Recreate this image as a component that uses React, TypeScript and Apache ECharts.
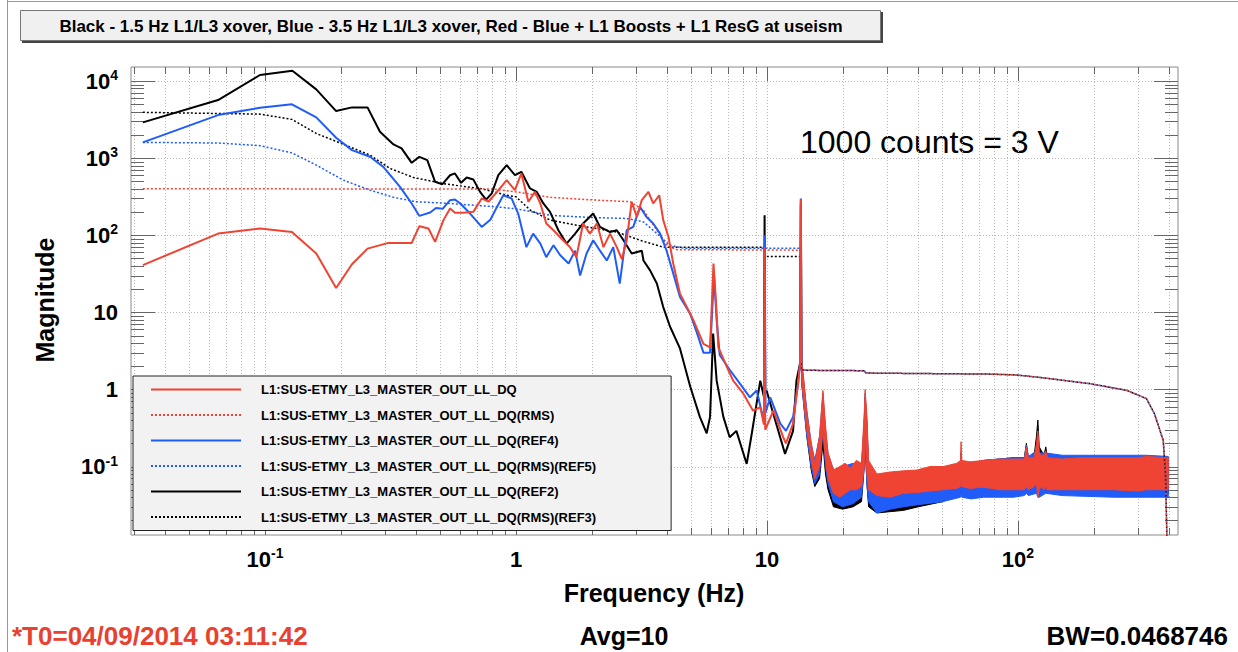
import React, { useEffect, useRef } from "react";
import * as echarts from "echarts";

const FONT = '"Liberation Sans", Arial, Helvetica, sans-serif';
const RED = "#ef4333";
const BLUE = "#1f5cf8";
const BLACK = "#000000";

const X_MIN = 0.02924;
const X_MAX = 434;
const Y_MIN = 0.01294;
const Y_MAX = 15200;

const seriesNames = [
  "L1:SUS-ETMY_L3_MASTER_OUT_LL_DQ",
  "L1:SUS-ETMY_L3_MASTER_OUT_LL_DQ(RMS)",
  "L1:SUS-ETMY_L3_MASTER_OUT_LL_DQ(REF4)",
  "L1:SUS-ETMY_L3_MASTER_OUT_LL_DQ(RMS)(REF5)",
  "L1:SUS-ETMY_L3_MASTER_OUT_LL_DQ(REF2)",
  "L1:SUS-ETMY_L3_MASTER_OUT_LL_DQ(RMS)(REF3)",
];

// ---------- Red: current (solid) ----------
const redFreq = [0.0326, 0.065, 0.0955, 0.128, 0.16, 0.192, 0.222, 0.256, 0.31, 0.384, 0.412, 0.448, 0.476, 0.514, 0.546, 0.571, 0.617, 0.676, 0.73, 0.776, 0.84, 0.918, 0.99, 1.05, 1.12, 1.19, 1.25, 1.32, 1.41, 1.54, 1.64, 1.74, 1.85, 1.97, 2.1, 2.23, 2.37, 2.52, 2.64, 2.76, 2.89, 3.03, 3.17, 3.37, 3.52, 3.72, 3.86, 4.05, 4.23, 4.5, 4.79, 5.09, 5.58, 5.93, 6.12, 6.25, 6.4, 6.9, 7.33, 8.05, 8.8, 9.4, 9.72, 9.78, 9.84, 10.6, 11.6, 11.9, 12.7, 13.3, 13.55, 13.63, 13.72];
const redMag = [41, 105, 122, 110, 58, 20.7, 42, 67, 79.5, 79.5, 131, 122, 82, 157, 222, 195, 195, 201, 300, 272, 365, 518, 384, 633, 272, 365, 258, 142, 116, 86, 70, 52, 142, 105, 142, 70, 105, 70, 49, 86, 272, 172, 285, 365, 258, 330, 157, 95, 43, 17.5, 11.7, 7.9, 3.9, 3.5, 43, 15, 3.5, 2.0, 1.3, 0.88, 0.53, 0.59, 0.35, 70, 0.3, 0.53, 0.24, 0.2, 0.36, 1.2, 2.2, 290, 2.2];

// ---------- Blue: REF4 (solid) ----------
const blueFreq = [0.0326, 0.065, 0.0955, 0.128, 0.16, 0.192, 0.222, 0.262, 0.296, 0.345, 0.384, 0.412, 0.455, 0.48, 0.51, 0.546, 0.571, 0.6, 0.656, 0.73, 0.79, 0.84, 0.89, 0.96, 1.02, 1.1, 1.17, 1.25, 1.32, 1.41, 1.5, 1.62, 1.72, 1.8, 1.91, 2.03, 2.16, 2.3, 2.44, 2.59, 2.76, 2.93, 3.12, 3.31, 3.52, 3.75, 3.98, 4.23, 4.5, 4.94, 5.25, 5.58, 5.93, 6.15, 6.3, 6.48, 7.1, 7.8, 8.55, 9.1, 9.63, 9.74, 9.8, 9.86, 10.3, 11.3, 11.9, 12.7, 13.3, 13.55, 13.64, 13.73];
const blueMag = [1600, 3614, 4500, 4980, 3375, 1836, 1270, 1040, 771, 424, 258, 178, 197, 226, 220, 285, 290, 258, 191, 128, 159, 233, 330, 300, 191, 70, 105, 78, 52, 74, 55, 43, 63, 30, 58, 86, 63, 47, 70, 23.6, 116, 128, 233, 172, 142, 105, 63, 32, 15.8, 9.6, 5.5, 3.0, 3.0, 30, 8, 2.8, 1.8, 1.19, 0.79, 0.97, 0.44, 0.5, 100, 0.5, 0.79, 0.36, 0.29, 0.44, 1.19, 2.2, 300, 2.2];

// ---------- Black: REF2 (solid) ----------
const blackFreq = [0.0326, 0.065, 0.0955, 0.1285, 0.16, 0.192, 0.222, 0.256, 0.287, 0.325, 0.35, 0.384, 0.412, 0.443, 0.476, 0.509, 0.546, 0.571, 0.604, 0.636, 0.676, 0.719, 0.76, 0.8, 0.85, 0.918, 0.99, 1.05, 1.137, 1.21, 1.285, 1.366, 1.475, 1.59, 1.72, 1.85, 2.03, 2.16, 2.37, 2.52, 2.68, 2.89, 3.17, 3.22, 3.42, 3.64, 3.86, 4.11, 4.5, 4.94, 5.4, 5.75, 5.93, 6.1, 6.3, 6.7, 7.1, 7.55, 8.3, 8.7, 9.4, 9.72, 9.78, 9.84, 9.96, 10.6, 11.8, 12.7, 13.1, 13.55, 13.64, 13.73];
const blackMag = [2910, 5665, 11970, 13600, 7800, 4075, 4550, 4550, 2200, 1506, 1336, 869, 1040, 942, 492, 459, 600, 633, 478, 561, 528, 365, 290, 348, 601, 811, 601, 664, 404, 365, 258, 201, 116, 78, 105, 142, 191, 128, 110, 116, 86, 58, 63, 47, 35, 23.6, 11.7, 6.5, 3.4, 1.1, 0.44, 0.27, 0.44, 5.3, 1.3, 0.44, 0.24, 0.29, 0.108, 0.27, 1.3, 0.8, 182, 0.9, 0.97, 0.48, 0.146, 0.29, 1.3, 2.2, 250, 2.2];

// ---------- RMS curves (dotted) ----------
const redRmsFreq = [0.0326, 0.8, 1.0, 1.37, 2.1, 2.85, 3.22, 3.64, 3.98, 4.37, 13.6];
const redRmsMag = [400, 398, 365, 310, 285, 272, 211, 116, 74, 65, 64];
const blueRmsFreq = [0.0326, 0.065, 0.0955, 0.128, 0.16, 0.205, 0.262, 0.325, 0.4, 0.546, 0.84, 1.0, 1.37, 1.97, 2.76, 3.22, 3.64, 4.1, 4.64, 13.6];
const blueRmsMag = [1600, 1570, 1450, 1170, 811, 518, 384, 310, 272, 258, 233, 220, 181, 170, 165, 149, 105, 74, 68, 68];
const blackRmsFreq = [0.0326, 0.0955, 0.128, 0.16, 0.205, 0.262, 0.315, 0.39, 0.53, 0.72, 0.918, 1.0, 1.14, 1.37, 1.74, 2.52, 3.12, 3.86, 9.76, 9.8, 13.6];
const blackRmsMag = [3925, 3720, 3180, 2090, 1510, 1094, 734, 561, 459, 404, 330, 315, 211, 157, 135, 110, 86, 70, 70, 53, 53];
const rmsTailFreq = [13.65, 14.4, 24.4, 24.8, 77, 98.6, 120, 193, 272, 325, 350, 379, 387, 392];
const rmsTailMag = [1.8, 1.77, 1.75, 1.63, 1.58, 1.54, 1.44, 1.19, 0.97, 0.76, 0.48, 0.218, 0.08, 0.012];

// ---------- High-frequency noise bands (upper / lower envelope) ----------
const redBandFreq = [13.75, 14.0, 14.4, 15.0, 15.5, 16.2, 16.7, 17.1, 17.5, 18.4, 19.5, 20.5, 21.5, 22.7, 23.8, 24.4, 24.6, 25.0, 25.4, 27.4, 31, 35, 39.5, 44.6, 50.4, 57, 59.0, 59.3, 59.7, 64.4, 72.8, 85, 95.7, 106, 108, 110, 116, 118.5, 120, 121.5, 124, 127, 129, 131, 150, 177, 240, 300, 325, 392, 397];
const redBandHigh = [2.2, 1.4, 0.5, 0.2, 0.11, 0.25, 0.97, 0.35, 0.15, 0.09, 0.1, 0.11, 0.095, 0.12, 0.11, 0.5, 1.0, 0.45, 0.12, 0.08, 0.085, 0.088, 0.09, 0.1, 0.1, 0.11, 0.12, 0.21, 0.12, 0.115, 0.12, 0.125, 0.125, 0.125, 0.18, 0.13, 0.13, 0.2, 0.29, 0.15, 0.14, 0.14, 0.16, 0.13, 0.125, 0.13, 0.13, 0.13, 0.135, 0.13, 0.13];
const redBandLow = [1.3, 0.7, 0.3, 0.12, 0.07, 0.1, 0.3, 0.12, 0.07, 0.045, 0.04, 0.045, 0.05, 0.05, 0.055, 0.1, 0.3, 0.08, 0.05, 0.042, 0.04, 0.045, 0.046, 0.048, 0.05, 0.052, 0.055, 0.07, 0.055, 0.052, 0.054, 0.05, 0.05, 0.05, 0.055, 0.05, 0.055, 0.06, 0.04, 0.05, 0.055, 0.05, 0.055, 0.05, 0.05, 0.05, 0.05, 0.048, 0.05, 0.05, 0.05];

const blueBandFreq = [13.75, 14.4, 15.0, 15.5, 16.2, 16.7, 17.1, 17.5, 18.4, 20, 22, 23.8, 24.4, 24.6, 25.0, 25.4, 27.4, 31, 35, 40, 50, 59.0, 59.3, 59.7, 65, 73, 96, 106, 108, 110, 118.5, 120, 121.5, 129, 150, 240, 325, 397];
const blueBandHigh = [2.2, 0.55, 0.2, 0.12, 0.25, 0.9, 0.3, 0.15, 0.09, 0.1, 0.11, 0.1, 0.4, 0.9, 0.4, 0.1, 0.075, 0.08, 0.08, 0.085, 0.09, 0.1, 0.15, 0.1, 0.1, 0.12, 0.13, 0.13, 0.19, 0.135, 0.16, 0.25, 0.15, 0.15, 0.14, 0.14, 0.14, 0.135];
const blueBandLow = [1.2, 0.25, 0.1, 0.06, 0.08, 0.3, 0.1, 0.06, 0.035, 0.03, 0.033, 0.04, 0.1, 0.2, 0.06, 0.035, 0.025, 0.028, 0.03, 0.032, 0.035, 0.04, 0.05, 0.04, 0.038, 0.04, 0.04, 0.042, 0.045, 0.042, 0.045, 0.04, 0.04, 0.045, 0.042, 0.04, 0.04, 0.04];

const blackBandFreq = [13.75, 14.4, 15.0, 15.5, 16.2, 16.7, 17.1, 17.5, 18.4, 20, 22, 23.8, 24.4, 24.6, 25.0, 25.4, 27.4, 31, 35, 40, 50, 59.0, 59.3, 59.7, 73, 96, 106, 108, 110, 116, 118.5, 120, 121.5, 124, 127, 129, 131, 240, 325, 397];
const blackBandHigh = [2.2, 0.45, 0.18, 0.12, 0.2, 0.5, 0.25, 0.13, 0.09, 0.09, 0.1, 0.1, 0.35, 0.8, 0.35, 0.09, 0.07, 0.075, 0.08, 0.085, 0.095, 0.1, 0.15, 0.1, 0.12, 0.13, 0.13, 0.2, 0.13, 0.14, 0.25, 0.4, 0.18, 0.16, 0.14, 0.18, 0.13, 0.13, 0.13, 0.13];
const blackBandLow = [1.2, 0.25, 0.09, 0.055, 0.07, 0.2, 0.08, 0.05, 0.03, 0.028, 0.03, 0.035, 0.1, 0.2, 0.06, 0.03, 0.025, 0.026, 0.027, 0.03, 0.035, 0.045, 0.06, 0.045, 0.045, 0.045, 0.045, 0.05, 0.045, 0.05, 0.06, 0.06, 0.05, 0.05, 0.05, 0.05, 0.05, 0.045, 0.042, 0.045];

// ---------- helpers ----------
const pairs = (f: number[], m: number[]) => f.map((v, i) => [v, m[i]]);

const isDecade = (v: number) => {
  const e = Math.log10(v);
  return Math.abs(e - Math.round(e)) < 1e-6;
};

const xGridValues: number[] = [];
for (let e = -2; e <= 2; e++) {
  for (let k = 1; k <= 9; k++) {
    const v = parseFloat((k * Math.pow(10, e)).toPrecision(3));
    if (v > X_MIN && v < X_MAX) xGridValues.push(v);
  }
}
const yTickValues: number[] = [];
for (let e = -2; e <= 4; e++) {
  for (let k = 1; k <= 9; k++) {
    const v = parseFloat((k * Math.pow(10, e)).toPrecision(3));
    if (v > Y_MIN && v < Y_MAX) yTickValues.push(v);
  }
}

const labelFmt = (v: number) => {
  const e = Math.log10(v);
  const r = Math.round(e);
  if (Math.abs(e - r) > 1e-6) return "";
  if (r === 0) return "{b|1}";
  if (r === 1) return "{b|10}";
  return `{b|10}{s|${r}}`;
};
const labelRich = {
  b: { fontSize: 22, fontWeight: "bold", fontFamily: FONT, color: "#000", lineHeight: 26 },
  s: { fontSize: 14, fontWeight: "bold", fontFamily: FONT, color: "#000", lineHeight: 14, verticalAlign: "top" },
};

function lineSeries(name: string, color: string, f: number[], m: number[], dotted: boolean) {
  return {
    type: "line",
    name,
    data: pairs(f, m),
    showSymbol: false,
    symbol: "none",
    silent: true,
    clip: true,
    z: 3,
    color,
    lineStyle: dotted ? { color, width: 1.5, type: [2, 2] } : { color, width: 2 },
    itemStyle: { color },
  };
}

function bandSeries(name: string, color: string, f: number[], hi: number[], lo: number[]) {
  return {
    type: "custom",
    name,
    silent: true,
    z: 3,
    color,
    data: [[f[0], hi[0]]],
    renderItem: (_params: any, api: any) => {
      const pts: number[][] = [];
      for (let i = 0; i < f.length; i++) pts.push(api.coord([f[i], hi[i]]));
      for (let i = f.length - 1; i >= 0; i--) pts.push(api.coord([f[i], lo[i]]));
      return {
        type: "polygon",
        shape: { points: pts },
        style: { fill: color, stroke: color, lineWidth: 1 },
      };
    },
  };
}

const GRID_COLOR = "#b8b8b8";
const TICK_COLOR = "#666";

const xGridSeries = {
  type: "custom",
  name: "xgrid",
  silent: true,
  z: 1,
  data: xGridValues.map((v) => [v, 1]),
  renderItem: (params: any, api: any) => {
    const v = api.value(0);
    const p = api.coord([v, 1]);
    const cs = params.coordSys;
    const x = Math.round(p[0]) + 0.5;
    const len = isDecade(v) ? 14 : 7;
    const top = cs.y;
    const bot = cs.y + cs.height;
    return {
      type: "group",
      children: [
        { type: "line", shape: { x1: x, y1: top, x2: x, y2: bot }, style: { stroke: GRID_COLOR, lineWidth: 1, lineDash: [1, 2] } },
        { type: "line", shape: { x1: x, y1: top, x2: x, y2: top + len }, style: { stroke: TICK_COLOR, lineWidth: 1 } },
        { type: "line", shape: { x1: x, y1: bot - len, x2: x, y2: bot }, style: { stroke: TICK_COLOR, lineWidth: 1 } },
      ],
    };
  },
};

const yGridSeries = {
  type: "custom",
  name: "ygrid",
  silent: true,
  z: 1,
  data: yTickValues.map((v) => [1, v]),
  renderItem: (params: any, api: any) => {
    const v = api.value(1);
    const p = api.coord([1, v]);
    const cs = params.coordSys;
    const y = Math.round(p[1]) + 0.5;
    const major = isDecade(v);
    const len = major ? 24 : 13;
    const left = cs.x;
    const right = cs.x + cs.width;
    const children: any[] = [];
    if (major) {
      children.push({ type: "line", shape: { x1: left, y1: y, x2: right, y2: y }, style: { stroke: GRID_COLOR, lineWidth: 1, lineDash: [1, 2] } });
    }
    children.push({ type: "line", shape: { x1: left, y1: y, x2: left + len, y2: y }, style: { stroke: TICK_COLOR, lineWidth: 1 } });
    children.push({ type: "line", shape: { x1: right - len, y1: y, x2: right, y2: y }, style: { stroke: TICK_COLOR, lineWidth: 1 } });
    return { type: "group", children };
  },
};

function txt(text: string, x: number, y: number, font: string, align: string, fill = "#000", rotation = 0) {
  return {
    type: "text",
    x,
    y,
    rotation,
    silent: true,
    style: {
      text,
      font,
      fill,
      align,
      textAlign: align,
      verticalAlign: "middle",
      textVerticalAlign: "middle",
    },
  };
}

function buildOption() {
  return {
    animation: false,
    backgroundColor: "#ffffff",
    grid: {
      left: 131,
      right: 60,
      top: 67,
      bottom: 117,
      show: true,
      borderColor: "#8a8a8a",
      borderWidth: 1,
      backgroundColor: "transparent",
    },
    xAxis: {
      type: "log",
      logBase: 10,
      min: X_MIN,
      max: X_MAX,
      axisLine: { show: false },
      axisTick: { show: false },
      splitLine: { show: false },
      minorTick: { show: false },
      axisLabel: { formatter: labelFmt, rich: labelRich, margin: 11 },
    },
    yAxis: {
      type: "log",
      logBase: 10,
      min: Y_MIN,
      max: Y_MAX,
      axisLine: { show: false },
      axisTick: { show: false },
      splitLine: { show: false },
      minorTick: { show: false },
      axisLabel: { formatter: labelFmt, rich: labelRich, margin: 13 },
    },
    legend: {
      data: seriesNames,
      orient: "vertical",
      left: 133,
      top: 376,
      itemWidth: 90,
      itemHeight: 12,
      itemGap: 12.5,
      padding: [7, 75, 7, 17],
      backgroundColor: "#f2f2f2",
      borderColor: "#222",
      borderWidth: 1,
      borderRadius: 0,
      selectedMode: false,
      itemStyle: { opacity: 0, borderWidth: 0 },
      textStyle: { fontFamily: FONT, fontSize: 13, fontWeight: "bold", color: "#000", padding: [0, 0, 0, 15] },
    },
    graphic: [
      { type: "line", silent: true, shape: { x1: 7.5, y1: 0, x2: 7.5, y2: 652 }, style: { stroke: "#999", lineWidth: 1 } },
      { type: "line", silent: true, shape: { x1: 7, y1: 1.5, x2: 1238, y2: 1.5 }, style: { stroke: "#999", lineWidth: 1 } },
      { type: "rect", silent: true, shape: { x: 22, y: 12, width: 861, height: 31 }, style: { fill: "#444" } },
      { type: "rect", silent: true, shape: { x: 20.5, y: 10.5, width: 860, height: 30 }, style: { fill: "#f0f0f0", stroke: "#777", lineWidth: 1 } },
      txt("Black - 1.5 Hz L1/L3 xover, Blue - 3.5 Hz L1/L3 xover, Red - Blue + L1 Boosts + L1 ResG at useism", 451, 26, `bold 17px ${FONT}`, "center"),
      txt("1000 counts = 3 V", 800, 142, `32px ${FONT}`, "left"),
      txt("Magnitude", 45, 300, `bold 25px ${FONT}`, "center", "#000", Math.PI / 2),
      txt("Frequency (Hz)", 654, 593, `bold 25px ${FONT}`, "center"),
      txt("*T0=04/09/2014 03:11:42", 12, 636, `bold 26px ${FONT}`, "left", "#e8412f"),
      txt("Avg=10", 624, 636, `bold 25px ${FONT}`, "center"),
      txt("BW=0.0468746", 1228, 636, `bold 26px ${FONT}`, "right"),
    ],
    series: [
      xGridSeries,
      yGridSeries,
      lineSeries(seriesNames[5], BLACK, blackRmsFreq.concat(rmsTailFreq), blackRmsMag.concat(rmsTailMag), true),
      lineSeries(seriesNames[3], BLUE, blueRmsFreq.concat(rmsTailFreq), blueRmsMag.concat(rmsTailMag), true),
      lineSeries(seriesNames[1], RED, redRmsFreq.concat(rmsTailFreq), redRmsMag.concat(rmsTailMag), true),
      lineSeries(seriesNames[4], BLACK, blackFreq, blackMag, false),
      lineSeries(seriesNames[2], BLUE, blueFreq, blueMag, false),
      lineSeries(seriesNames[0], RED, redFreq, redMag, false),
      bandSeries(seriesNames[4], BLACK, blackBandFreq, blackBandHigh, blackBandLow),
      bandSeries(seriesNames[2], BLUE, blueBandFreq, blueBandHigh, blueBandLow),
      bandSeries(seriesNames[0], RED, redBandFreq, redBandHigh, redBandLow),
    ],
  };
}

export default function App() {
  const ref = useRef<HTMLDivElement>(null);
  useEffect(() => {
    if (!ref.current) return;
    const chart = echarts.init(ref.current, null, { renderer: "svg" });
    chart.setOption(buildOption() as any);
    return () => chart.dispose();
  }, []);
  return (
    <div
      ref={ref}
      style={{ position: "fixed", left: 0, top: 0, width: 1238, height: 652, background: "#fff" }}
    />
  );
}
